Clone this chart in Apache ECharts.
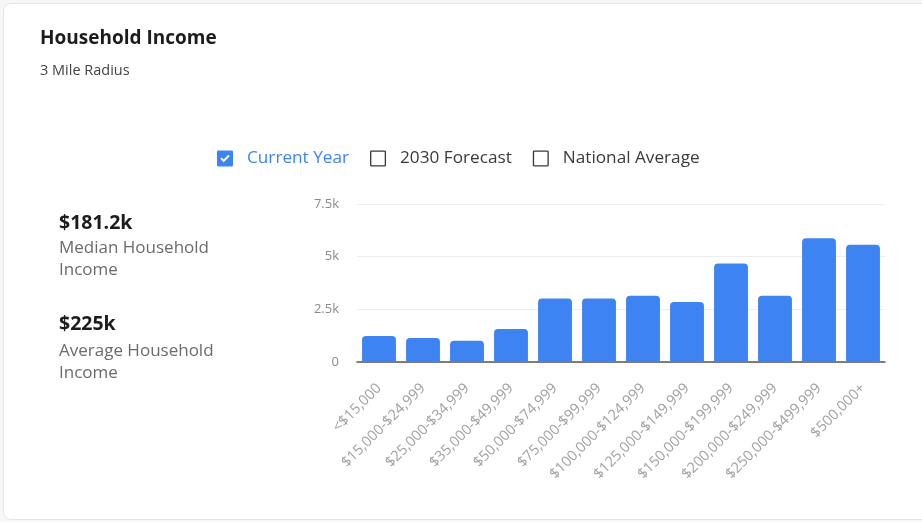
<!DOCTYPE html>
<html>
<head>
<meta charset="utf-8">
<script src="https://cdn.jsdelivr.net/npm/echarts@6/dist/echarts.min.js"></script>
<style>
  html, body { margin: 0; padding: 0; background: #f7f7f7; width: 922px; height: 522px; overflow: hidden; }
  #card { position: absolute; left: 3px; top: 3px; width: 940px; height: 515px; background: #fff; border: 1px solid #e4e4e4; border-radius: 8px; }
  #chart { position: absolute; left: 0; top: 0; width: 922px; height: 522px; }
</style>
</head>
<body>
<div id="card"></div>
<div id="chart"></div>
<script>
const categories = ['<$15,000', '$15,000-$24,999', '$25,000-$34,999', '$35,000-$49,999', '$50,000-$74,999', '$75,000-$99,999', '$100,000-$124,999', '$125,000-$149,999', '$150,000-$199,999', '$200,000-$249,999', '$250,000-$499,999', '$500,000+'];
const currentYear = [1240, 1145, 1010, 1570, 3020, 3010, 3150, 2850, 4680, 3150, 5870, 5570];
const forecast2030 = [];
const nationalAverage = [];
const seriesNames = ['Current Year', '2030 Forecast', 'National Average'];
const yTicks = [0, 2500, 5000, 7500];
const medianIncome = '$181.2k';
const averageIncome = '$225k';

const FONT = '"Open Sans", "Noto Sans", sans-serif';
const checkedIcon = 'path://M2,0 H22 Q24,0 24,2 V22 Q24,24 22,24 H2 Q0,24 0,22 V2 Q0,0 2,0 Z M5,12.5 L10,17.5 L19,8.5 L17,6.5 L10,13.5 L7,10.5 Z';
const boxIcon = 'path://M2,0 H22 Q24,0 24,2 V22 Q24,24 22,24 H2 Q0,24 0,22 V2 Q0,0 2,0 Z M2,2 V22 H22 V2 Z';

const chart = echarts.init(document.getElementById('chart'), null, { renderer: 'canvas' });
chart.setOption({
  backgroundColor: 'transparent',
  animation: false,
  textStyle: { fontFamily: FONT },
  title: [
    { text: 'Household Income', left: 35, top: 24, padding: 5, textStyle: { fontSize: 19, fontWeight: 'bold', color: '#1c1c1c', fontFamily: FONT } },
    { text: '3 Mile Radius', left: 35, top: 58, padding: 5, textStyle: { fontSize: 14.5, fontWeight: 'normal', color: '#444', fontFamily: FONT } }
  ],
  graphic: [
    { type: 'text', left: 59, top: 213, style: { text: medianIncome, fontSize: 19.5, fontWeight: 'bold', fill: '#1c1c1c', fontFamily: FONT } },
    { type: 'text', left: 59, top: 237, style: { text: 'Median Household\nIncome', fontSize: 17, lineHeight: 22, fill: '#6b6b6b', fontFamily: FONT } },
    { type: 'text', left: 59, top: 314, style: { text: averageIncome, fontSize: 19.5, fontWeight: 'bold', fill: '#1c1c1c', fontFamily: FONT } },
    { type: 'text', left: 59, top: 340, style: { text: 'Average Household\nIncome', fontSize: 17, lineHeight: 22, fill: '#6b6b6b', fontFamily: FONT } }
  ],
  legend: {
    left: 212, top: 145,
    itemWidth: 16, itemHeight: 16, itemGap: 21,
    inactiveColor: '#3a3a3a',
    inactiveBorderColor: 'transparent',
    textStyle: { fontSize: 17.2, fontFamily: FONT, color: '#333', padding: [0, 0, 0, 9] },
    selected: { 'Current Year': true, '2030 Forecast': false, 'National Average': false },
    data: [
      { name: seriesNames[0], icon: checkedIcon, textStyle: { color: '#3d84f2' } },
      { name: seriesNames[1], icon: boxIcon },
      { name: seriesNames[2], icon: boxIcon }
    ]
  },
  grid: { left: 357, right: 37, top: 204, bottom: 160 },
  xAxis: {
    type: 'category',
    data: categories,
    axisLine: { lineStyle: { color: '#555', width: 1.5 } },
    axisTick: { show: false },
    axisLabel: { rotate: 45, interval: 0, color: '#a0a0a0', fontSize: 14.5, margin: 24, fontFamily: FONT }
  },
  yAxis: {
    type: 'value',
    min: 0, max: yTicks[yTicks.length - 1], interval: 2500,
    axisLine: { show: false },
    axisTick: { show: false },
    splitLine: { lineStyle: { color: '#ededed' } },
    axisLabel: {
      color: '#8a8a8a', fontSize: 13, margin: 18, fontFamily: FONT,
      formatter: v => v === 0 ? '0' : (v / 1000) + 'k'
    }
  },
  series: [
    { name: seriesNames[0], type: 'bar', data: currentYear, barCategoryGap: '23%', itemStyle: { color: '#3d84f2', borderRadius: [4, 4, 0, 0] } },
    { name: seriesNames[1], type: 'bar', data: forecast2030, itemStyle: { color: '#3d84f2' } },
    { name: seriesNames[2], type: 'bar', data: nationalAverage, itemStyle: { color: '#3d84f2' } }
  ]
});
</script>
</body>
</html>
